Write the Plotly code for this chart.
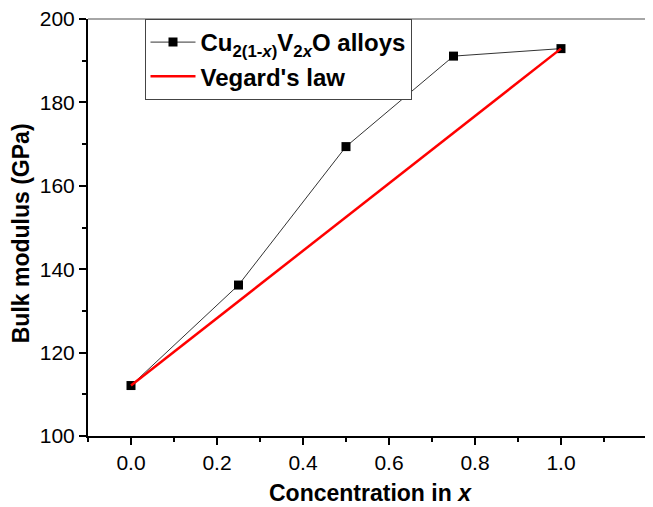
import plotly.graph_objects as go

x_conc = [0.0, 0.25, 0.5, 0.75, 1.0]
bulk_modulus = [112.1, 136.2, 169.4, 191.1, 192.9]
vegard_x = [0.0, 1.0]
vegard_y = [112.1, 192.9]

x_ticks = [0.0, 0.2, 0.4, 0.6, 0.8, 1.0]
y_ticks = [100, 120, 140, 160, 180, 200]

FONT = "Arial, Liberation Sans, sans-serif"

fig = go.Figure()
fig.add_trace(go.Scatter(
    x=x_conc, y=bulk_modulus, mode="lines+markers",
    name="Cu<sub>2(1-<i>x</i>)</sub>V<sub>2<i>x</i></sub>O alloys",
    line=dict(color="#333333", width=1),
    marker=dict(symbol="square", size=9, color="black"),
))
fig.add_trace(go.Scatter(
    x=vegard_x, y=vegard_y, mode="lines",
    name="Vegard's law",
    line=dict(color="#ff0000", width=2.5),
))

# page body has an 8px margin: figure sized/margined so the plot area lands where the reference has it
fig.update_layout(
    width=645, height=499,
    margin=dict(l=80, r=0, t=11, b=71),
    paper_bgcolor="white", plot_bgcolor="white",
    font=dict(family=FONT, color="black"),
    showlegend=True,
    legend=dict(
        x=0.1, y=1, xanchor="left", yanchor="top",
        bordercolor="#444444", borderwidth=1, bgcolor="white",
        font=dict(family=FONT, size=24, color="black", weight="bold"),
        itemwidth=45, tracegroupgap=0,
    ),
    xaxis=dict(
        range=[-0.1, 1.214], tickvals=x_ticks,
        ticktext=[f"{v:.1f}" for v in x_ticks],
        showgrid=False, zeroline=False, automargin=False,
        ticklabeloverflow="allow",
        showline=True, linecolor="black", linewidth=2,
        ticks="outside", ticklen=7, tickwidth=1.5, tickcolor="black",
        minor=dict(dtick=0.1, ticks="outside", ticklen=4, tickwidth=1.5, tickcolor="black"),
        tickfont=dict(size=21, family=FONT),
    ),
    yaxis=dict(
        range=[100, 200], tickvals=y_ticks,
        showgrid=False, zeroline=False, automargin=False,
        ticklabeloverflow="allow",
        showline=True, linecolor="black", linewidth=2,
        ticks="outside", ticklen=7, tickwidth=1.5, tickcolor="black",
        minor=dict(dtick=10, ticks="outside", ticklen=4, tickwidth=1.5, tickcolor="black"),
        tickfont=dict(size=21, family=FONT),
    ),
    shapes=[dict(type="line", xref="paper", yref="paper", x0=0, x1=1, y0=1, y1=1,
                 line=dict(color="#888888", width=1.5))],
    annotations=[
        dict(text="<b>Concentration in <i>x</i></b>", xref="paper", yref="paper",
             x=0.5, y=-0.137, xanchor="center", yanchor="middle", showarrow=False,
             font=dict(size=23, family=FONT, color="black")),
        dict(text="<b>Bulk modulus (GPa)</b>", xref="paper", yref="paper",
             x=-0.118, y=0.487, xanchor="center", yanchor="middle", showarrow=False,
             textangle=-90, font=dict(size=23, family=FONT, color="black")),
    ],
)

fig.write_html("out.html")
